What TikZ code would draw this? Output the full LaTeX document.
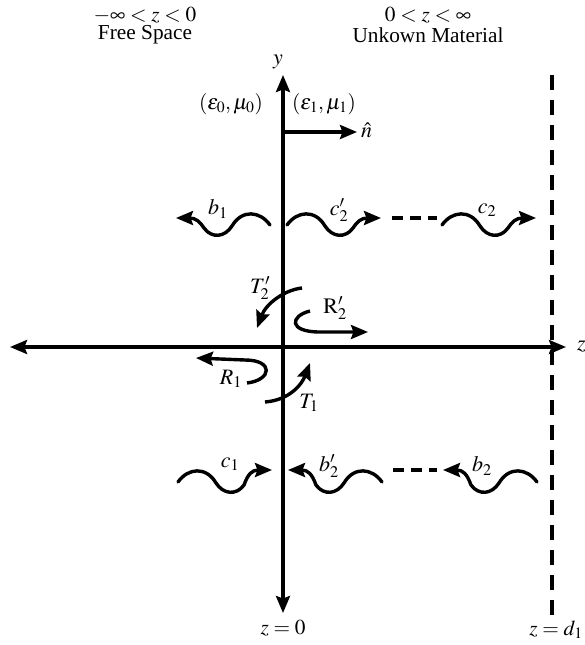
\documentclass[tikz,border=0pt]{standalone}
\usepackage{mathptmx}
\usepackage{fontspec}
\setmainfont{Liberation Serif}
\usetikzlibrary{arrows.meta}
\tikzset{
  pics/wave/.style={code={
    \draw[wv] (0,7+#1) .. controls (10,-7+#1) and (28,-9+#1) .. (38,8+#1)
      .. controls (45,19+#1) and (58,21+#1) .. (66,10+#1)
      .. controls (70,4) and (74,0) .. (94,0);}},
}
\begin{document}
\begin{tikzpicture}[x=1pt,y=-1pt,
  >={Stealth[length=17pt,width=14pt,inset=2.5pt]},
  font=\fontsize{21.3}{25}\selectfont,
  axis/.style={line width=3.2pt,<->},
  wv/.style={line width=3.4pt,->,line cap=round},
  curv/.style={line width=3.4pt,->},
  gap/.style={line width=4pt,dash pattern=on 11pt off 7pt},
  lbl/.style={inner sep=0pt},
  ml/.style={inner sep=0pt,font=\fontsize{22}{26}\selectfont}]
\useasboundingbox (0,0) rectangle (585,645);
% axes
\coordinate (ytop) at (283,75);
\coordinate (ybot) at (283,613);
\coordinate (zl) at (10,347);
\coordinate (zr) at (566,347);
\draw[axis] (ybot) -- (ytop);
\draw[axis] (zl) -- (zr);
\node[ml] (ylab) at (278,62) {$y$};
\node[ml,anchor=west] (zlab) at (577,347) {$z$};
\node[lbl] (z0) at (283,628) {$z=0$};
\node[lbl] (zd) at (556,630) {$z=d_1$};
% dashed boundary
\coordinate (dtop) at (552,75);
\coordinate (dbot) at (552,617);
\draw[line width=4pt,dash pattern=on 15pt off 10pt] (dtop) -- (dbot);
% titles
\node[lbl] (t1a) at (145,15) {$-\infty<z<0$};
\node[lbl] (t1b) at (145,35) {Free Space};
\node[lbl] (t2a) at (428,15) {$0<z<\infty$};
\node[lbl] (t2b) at (428,35) {Unkown Material};
% media
\node[lbl] (m0) at (231,104) {$(\varepsilon_0,\mu_0)$};
\node[lbl] (m1) at (324,104) {$(\varepsilon_1,\mu_1)$};
\coordinate (nstart) at (283,132);
\coordinate (nend) at (357,132);
\draw[curv] (nstart) -- (nend);
\node[ml,anchor=west] (nhat) at (361,130) {$\hat{n}$};
% row 1 waves
\pic[xscale=-1] at (270,218) {wave=0};
\node[ml] (b1) at (218,209) {$b_1$};
\pic at (287,218) {wave=0};
\node[ml] (c2p) at (339,210) {$c_2'$};
\coordinate (d1a) at (392,218);
\coordinate (d1b) at (437,218);
\draw[gap] (d1a) -- (d1b);
\pic at (442,218) {wave=0};
\node[ml] (c2) at (487,210) {$c_2$};
% row 2 waves
\pic at (178,470) {wave=5};
\node[ml] (c1) at (230,464) {$c_1$};
\pic[xscale=-1] at (382,470) {wave=5};
\node[ml] (b2p) at (329,466) {$b_2'$};
\coordinate (d2a) at (393,470);
\coordinate (d2b) at (437,470);
\draw[gap] (d2a) -- (d2b);
\pic[xscale=-1] at (537,470) {wave=5};
\node[ml] (b2) at (482,466) {$b_2$};
% curved arrows
\coordinate (T2s) at (302,288);
\coordinate (T2e) at (257,328);
\draw[curv] (T2s) .. controls (284,290) and (266,304) .. (T2e);
\node[ml] (T2l) at (260,288) {$T_2'$};
\coordinate (R2s) at (310,311);
\coordinate (R2e) at (368,332);
\draw[curv] (R2s) .. controls (290,316) and (288,332) .. (320,332) -- (R2e);
\node[ml] (R2l) at (335,308) {$\mathrm{R}_2'$};
\coordinate (R1s) at (247,383);
\coordinate (R1e) at (196,358);
\draw[curv] (R1s) .. controls (272,380) and (274,360) .. (245,360) -- (R1e);
\node[ml] (R1l) at (231,379) {$R_1$};
\coordinate (T1s) at (265,402);
\coordinate (T1e) at (310,363);
\draw[curv] (T1s) .. controls (290,400) and (302,384) .. (T1e);
\node[ml] (T1l) at (309,403) {$T_1$};
\end{tikzpicture}
\end{document}
